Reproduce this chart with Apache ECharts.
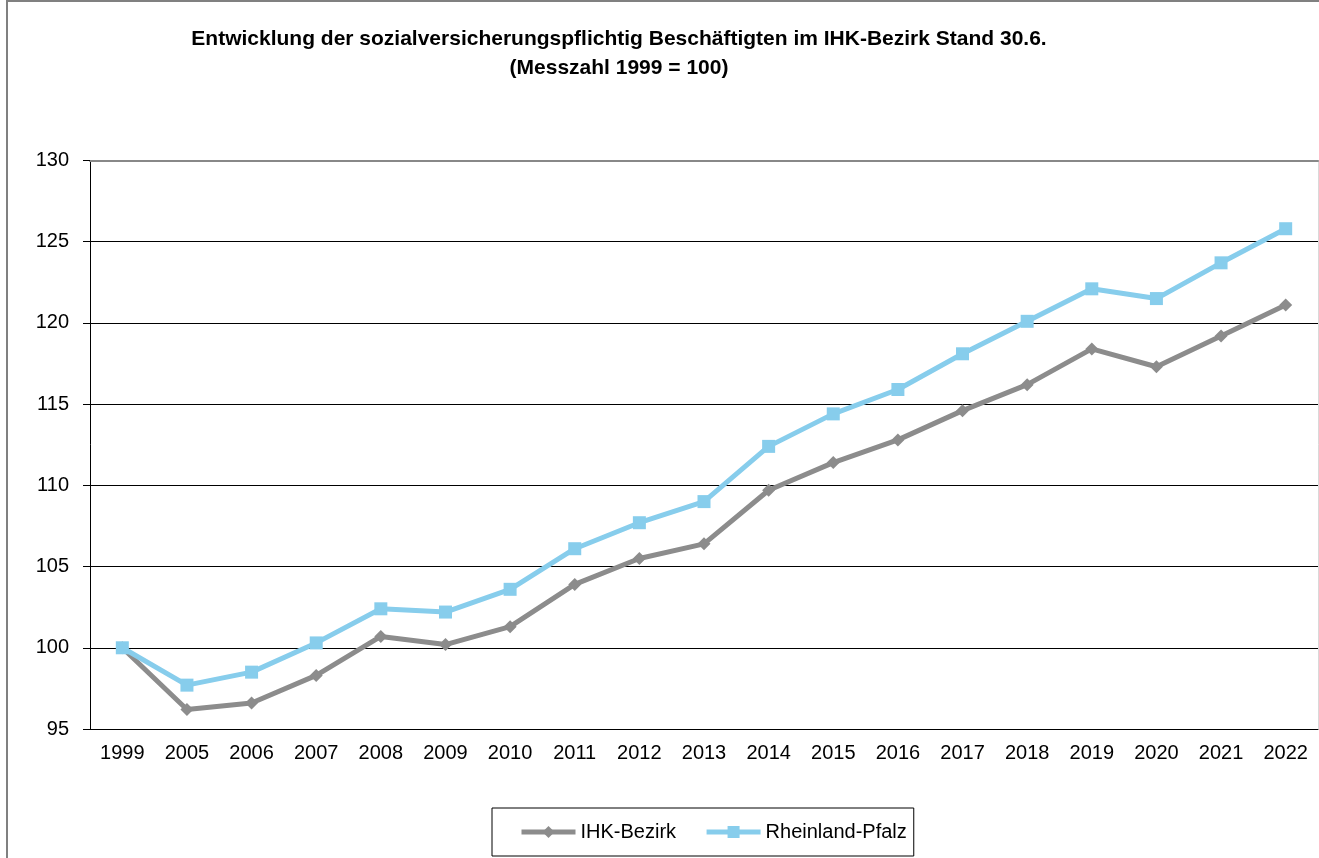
<!DOCTYPE html>
<html>
<head>
<meta charset="utf-8">
<script src="https://cdn.jsdelivr.net/npm/echarts@6/dist/echarts.min.js"></script>
<style>
  html, body { margin: 0; padding: 0; background: #fff; }
  #chart { width: 1319px; height: 858px; }
</style>
</head>
<body>
<div id="chart"></div>
<script>
const years = ['1999', '2005', '2006', '2007', '2008', '2009', '2010', '2011', '2012', '2013',
  '2014', '2015', '2016', '2017', '2018', '2019', '2020', '2021', '2022'];
const ihkBezirk = [100, 96.2, 96.6, 98.3, 100.7, 100.2, 101.3, 103.9, 105.5, 106.4,
  109.7, 111.4, 112.8, 114.6, 116.2, 118.4, 117.3, 119.2, 121.1];
const rheinlandPfalz = [100, 97.7, 98.5, 100.3, 102.4, 102.2, 103.6, 106.1, 107.7, 109.0,
  112.4, 114.4, 115.9, 118.1, 120.1, 122.1, 121.5, 123.7, 125.8];

const font = 'Liberation Sans, Arial, sans-serif';
const chart = echarts.init(document.getElementById('chart'));
chart.setOption({
  animation: false,
  textStyle: { fontFamily: font },
  title: {
    text: 'Entwicklung der sozialversicherungspflichtig Beschäftigten im IHK-Bezirk Stand 30.6.\n(Messzahl 1999 = 100)',
    left: 614,
    textAlign: 'center',
    top: 20,
    textStyle: { fontSize: 21, fontWeight: 'bold', color: '#000', lineHeight: 29, fontFamily: font },
  },
  graphic: [
    {
      type: 'rect',
      shape: { x: 7, y: 1, width: 1330, height: 880 },
      style: { fill: 'none', stroke: '#808080', lineWidth: 2 },
      silent: true,
    },
  ],
  legend: {
    data: ['IHK-Bezirk', 'Rheinland-Pfalz'],
    left: 492,
    top: 808,
    borderColor: '#000',
    borderWidth: 1,
    padding: [14, 7, 14, 27],
    itemWidth: 54,
    itemHeight: 15,
    itemGap: 28,
    lineStyle: { width: 5 },
    textStyle: { fontSize: 20, color: '#000', fontFamily: font },
  },
  grid: { left: 90, right: 1, top: 160.5, bottom: 129 },
  xAxis: [
    {
      type: 'category',
      data: years,
      boundaryGap: true,
      axisLine: { lineStyle: { color: '#000', width: 1 } },
      axisTick: { length: 6, lineStyle: { color: '#000' } },
      axisLabel: { fontSize: 20, color: '#000', margin: 14, interval: 0 },
    },
    {
      type: 'category',
      data: years,
      position: 'top',
      axisLine: { lineStyle: { color: '#888', width: 2 } },
      axisTick: { show: false },
      axisLabel: { show: false },
    },
  ],
  yAxis: [
    {
      type: 'value',
      min: 95,
      max: 130,
      interval: 5,
      axisLine: { show: true, lineStyle: { color: '#000', width: 1 } },
      axisTick: { show: true, length: 7, lineStyle: { color: '#000' } },
      axisLabel: { fontSize: 20, color: '#000', margin: 21 },
      splitLine: { lineStyle: { color: '#000', width: 1 } },
    },
    {
      type: 'value',
      min: 95,
      max: 130,
      interval: 5,
      position: 'right',
      axisLine: { show: true, lineStyle: { color: '#d9d9d9', width: 1 } },
      axisTick: { show: false },
      axisLabel: { show: false },
      splitLine: { show: false },
    },
  ],
  series: [
    {
      name: 'IHK-Bezirk',
      type: 'line',
      data: ihkBezirk,
      symbol: 'diamond',
      symbolSize: 13,
      lineStyle: { color: '#8c8c8c', width: 5 },
      itemStyle: { color: '#8c8c8c' },
    },
    {
      name: 'Rheinland-Pfalz',
      type: 'line',
      data: rheinlandPfalz,
      symbol: 'rect',
      symbolSize: 13,
      lineStyle: { color: '#87cdec', width: 5 },
      itemStyle: { color: '#87cdec' },
    },
  ],
});
</script>
</body>
</html>
